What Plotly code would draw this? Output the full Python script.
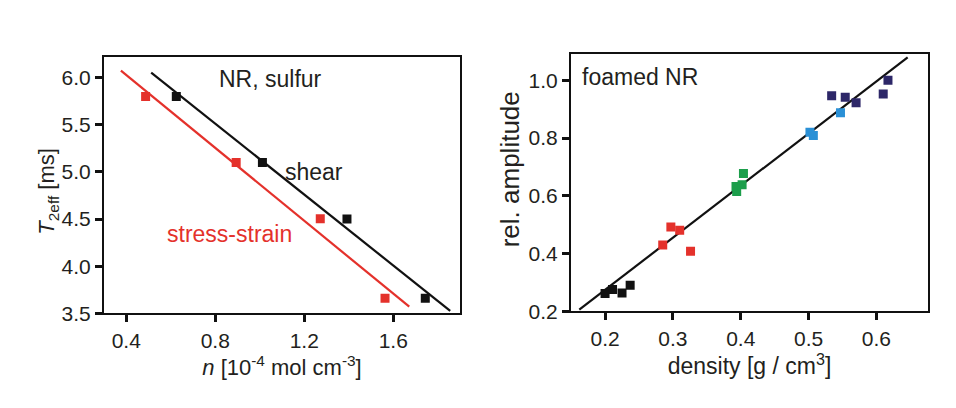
import plotly.graph_objects as go

# ---- left panel: NR, sulfur ----
n_shear = [0.625, 1.012, 1.392, 1.744]
t2_shear = [5.80, 5.10, 4.50, 3.66]
n_ss = [0.487, 0.894, 1.272, 1.563]
t2_ss = [5.80, 5.10, 4.505, 3.66]
fit_shear_x = [0.512, 1.856]
fit_shear_y = [6.055, 3.526]
fit_ss_x = [0.376, 1.672]
fit_ss_y = [6.075, 3.57]
left_xticks = [0.4, 0.8, 1.2, 1.6]
left_yticks = [3.5, 4.0, 4.5, 5.0, 5.5, 6.0]

# ---- right panel: foamed NR ----
dens_black = [0.200, 0.211, 0.225, 0.237]
amp_black = [0.262, 0.276, 0.264, 0.290]
dens_red = [0.285, 0.297, 0.310, 0.326]
amp_red = [0.430, 0.492, 0.481, 0.408]
dens_green = [0.394, 0.393, 0.402, 0.404]
amp_green = [0.615, 0.632, 0.638, 0.677]
dens_blue = [0.502, 0.507, 0.547]
amp_blue = [0.820, 0.809, 0.887]
dens_navy = [0.534, 0.554, 0.570, 0.610, 0.617]
amp_navy = [0.946, 0.941, 0.922, 0.952, 1.000]
fit_x = [0.162, 0.646]
fit_y = [0.206, 1.079]
right_xticks = [0.2, 0.3, 0.4, 0.5, 0.6]
right_yticks = [0.2, 0.4, 0.6, 0.8, 1.0]

W, H = 956, 408
FONT = "Arial, Liberation Sans, Helvetica, sans-serif"
TXT = "#231f20"
RED = "#e4312b"


def dx(a, b):
    return [a / W, b / W]


def dy(top, bottom):
    return [1 - bottom / H, 1 - top / H]


fig = go.Figure()

# left panel
fig.add_trace(go.Scatter(x=fit_ss_x, y=fit_ss_y, mode="lines",
                         line=dict(color=RED, width=2.2), xaxis="x", yaxis="y"))
fig.add_trace(go.Scatter(x=fit_shear_x, y=fit_shear_y, mode="lines",
                         line=dict(color="#111111", width=2.2), xaxis="x", yaxis="y"))
fig.add_trace(go.Scatter(x=n_ss, y=t2_ss, mode="markers",
                         marker=dict(symbol="square", size=9, color=RED), xaxis="x", yaxis="y"))
fig.add_trace(go.Scatter(x=n_shear, y=t2_shear, mode="markers",
                         marker=dict(symbol="square", size=9, color="#111111"), xaxis="x", yaxis="y"))

# right panel
fig.add_trace(go.Scatter(x=fit_x, y=fit_y, mode="lines",
                         line=dict(color="#111111", width=2.2), xaxis="x2", yaxis="y2"))
for xs, ys, col in [(dens_black, amp_black, "#111111"),
                    (dens_red, amp_red, RED),
                    (dens_green, amp_green, "#1c9e4b"),
                    (dens_blue, amp_blue, "#2a90d6"),
                    (dens_navy, amp_navy, "#2d2768")]:
    fig.add_trace(go.Scatter(x=xs, y=ys, mode="markers",
                             marker=dict(symbol="square", size=9, color=col),
                             xaxis="x2", yaxis="y2"))

ax_common = dict(showline=True, linecolor="#111111", linewidth=2, mirror=True,
                 ticks="outside", ticklen=7, tickwidth=3, tickcolor="#111111",
                 showgrid=False, zeroline=False,
                 tickfont=dict(family=FONT, size=21, color=TXT))

fig.update_layout(
    width=W, height=H,
    margin=dict(l=0, r=0, t=0, b=0),
    paper_bgcolor="white", plot_bgcolor="white",
    showlegend=False,
    font=dict(family=FONT, color=TXT),
    xaxis=dict(domain=dx(104, 460), range=[0.30, 1.90],
               tickvals=left_xticks, ticktext=[f"{v:.1f}" for v in left_xticks],
               title=dict(text="<i>n</i> [10<sup>-4</sup> mol cm<sup>-3</sup>]",
                          font=dict(family=FONT, size=22, color=TXT), standoff=2),
               anchor="y", **ax_common),
    yaxis=dict(domain=dy(59, 322), range=[3.5, 6.216],
               tickvals=left_yticks, ticktext=[f"{v:.1f}" for v in left_yticks],
               anchor="x", **ax_common),
    xaxis2=dict(domain=dx(571, 928), range=[0.1498, 0.676],
                tickvals=right_xticks, ticktext=[f"{v:.1f}" for v in right_xticks],
                title=dict(text="density [g / cm<sup>3</sup>]",
                           font=dict(family=FONT, size=23, color=TXT), standoff=2),
                anchor="y2", **ax_common),
    yaxis2=dict(domain=dy(56, 320), range=[0.2, 1.089],
                tickvals=right_yticks, ticktext=[f"{v:.1f}" for v in right_yticks],
                anchor="x2", **ax_common),
    annotations=[
        dict(x=48 / W, y=1 - 197 / H, xref="paper", yref="paper",
             text="<i>T</i><sub>2eff</sub> [ms]", textangle=-90, showarrow=False,
             xanchor="center", yanchor="middle",
             font=dict(family=FONT, size=22, color=TXT)),
        dict(x=510 / W, y=1 - 174 / H, xref="paper", yref="paper",
             text="rel. amplitude", textangle=-90, showarrow=False,
             xanchor="center", yanchor="middle",
             font=dict(family=FONT, size=26, color=TXT)),
        dict(x=1.05, y=5.99, xref="x", yref="y", text="NR, sulfur", showarrow=False,
             font=dict(family=FONT, size=23, color=TXT)),
        dict(x=1.245, y=5.0, xref="x", yref="y", text="shear", showarrow=False,
             font=dict(family=FONT, size=23, color=TXT)),
        dict(x=0.864, y=4.34, xref="x", yref="y", text="stress-strain", showarrow=False,
             font=dict(family=FONT, size=23, color=RED)),
        dict(x=0.252, y=1.011, xref="x2", yref="y2", text="foamed NR", showarrow=False,
             font=dict(family=FONT, size=23, color=TXT)),
    ],
)

fig.write_html(
    "out.html",
    config={"displayModeBar": False, "staticPlot": True},
    post_script=(
        "document.documentElement.style.overflow='hidden';"
        "document.body.style.margin='0';"
        "document.body.style.overflow='hidden';"
    ),
)
